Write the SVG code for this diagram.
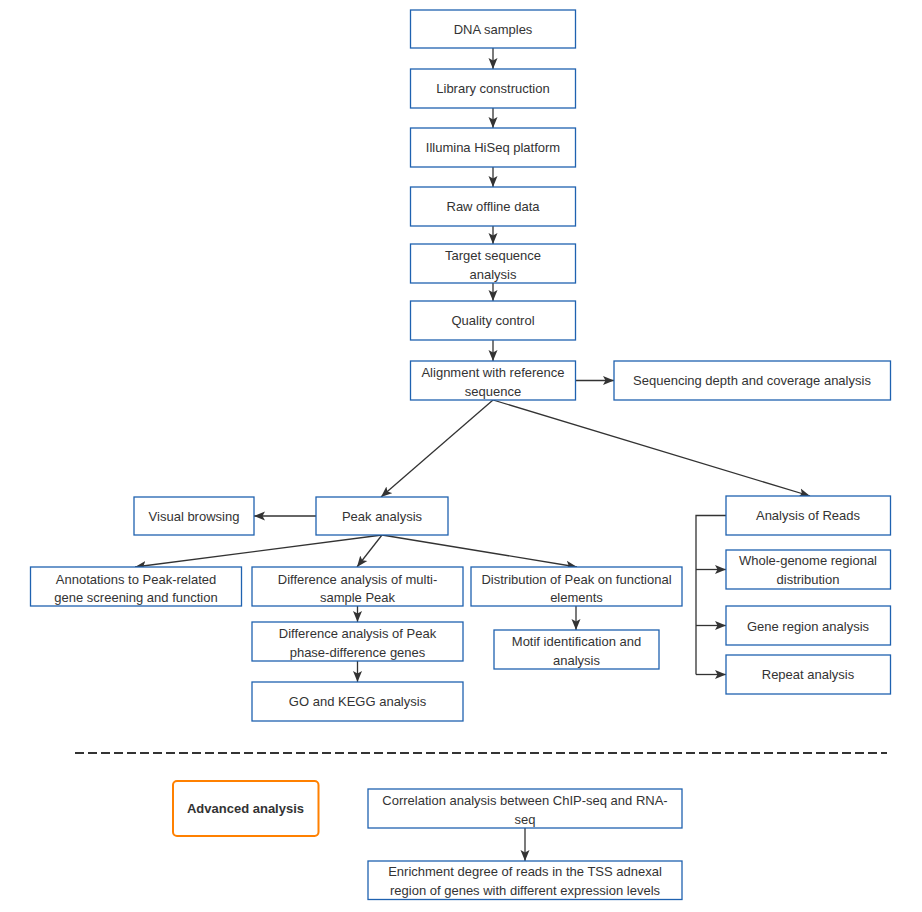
<svg xmlns="http://www.w3.org/2000/svg" width="922" height="912" viewBox="0 0 922 912">
<defs>
<style>
.box{fill:#fff;stroke:#1f62b0;stroke-width:1.3}
.adv{fill:#fff;stroke:#ff8000;stroke-width:2}
text{font-family:"Liberation Sans",Arial,sans-serif;font-size:13px;fill:#333;text-anchor:middle}
.b{font-weight:bold}
.c{fill:none;stroke:#333;stroke-width:1.3}
</style>
<marker id="ar" viewBox="0 0 12 10" markerWidth="12" markerHeight="10" refX="11" refY="5" orient="auto" markerUnits="userSpaceOnUse">
<path d="M0,0.5 L11,5 L0,9.5 L2.5,5 z" fill="#333"/>
</marker>
</defs>
<rect width="922" height="912" fill="#fff"/>
<g id="connectors">
<path class="c" marker-end="url(#ar)" d="M493,48 V69"/>
<path class="c" marker-end="url(#ar)" d="M493,108 V128"/>
<path class="c" marker-end="url(#ar)" d="M493,167 V187"/>
<path class="c" marker-end="url(#ar)" d="M493,226 V244"/>
<path class="c" marker-end="url(#ar)" d="M493,283 V301"/>
<path class="c" marker-end="url(#ar)" d="M493,340 V361"/>
<path class="c" marker-end="url(#ar)" d="M576,380.5 H614"/>
<path class="c" marker-end="url(#ar)" d="M493,400 L381,497"/>
<path class="c" marker-end="url(#ar)" d="M493,400 L810,496"/>
<path class="c" marker-end="url(#ar)" d="M316,516 H254"/>
<path class="c" marker-end="url(#ar)" d="M382,535 L135,567"/>
<path class="c" marker-end="url(#ar)" d="M382,535 L357,567"/>
<path class="c" marker-end="url(#ar)" d="M382,535 L577,567"/>
<path class="c" marker-end="url(#ar)" d="M357.5,606 V622"/>
<path class="c" marker-end="url(#ar)" d="M357.5,661 V682"/>
<path class="c" marker-end="url(#ar)" d="M576,606 V630"/>
<path class="c" d="M726,515.5 H696 V674.5"/>
<path class="c" marker-end="url(#ar)" d="M696,569.5 H726"/>
<path class="c" marker-end="url(#ar)" d="M696,625.5 H726"/>
<path class="c" marker-end="url(#ar)" d="M696,674.5 H726"/>
<path class="c" marker-end="url(#ar)" d="M525,828 V861"/>
</g>
<g id="n1"><rect class="box" x="410.5" y="10" width="165" height="38"/><text x="493" y="33.5">DNA samples</text></g>
<g id="n2"><rect class="box" x="410.5" y="69" width="165" height="39"/><text x="493" y="93">Library construction</text></g>
<g id="n3"><rect class="box" x="410.5" y="128" width="165" height="39"/><text x="493" y="152">Illumina HiSeq platform</text></g>
<g id="n4"><rect class="box" x="410.5" y="187" width="165" height="39"/><text x="493" y="211">Raw offline data</text></g>
<g id="n5"><rect class="box" x="410.5" y="244" width="165" height="39"/><text x="493" y="260">Target sequence</text><text x="493" y="279">analysis</text></g>
<g id="n6"><rect class="box" x="410.5" y="301" width="165" height="39"/><text x="493" y="325">Quality control</text></g>
<g id="n7"><rect class="box" x="410.5" y="361" width="165" height="39"/><text x="493" y="377">Alignment with reference</text><text x="493" y="396">sequence</text></g>
<g id="n8"><rect class="box" x="614" y="361" width="276.5" height="39"/><text x="752" y="385">Sequencing depth and coverage analysis</text></g>
<g id="n9"><rect class="box" x="316" y="497" width="132" height="38"/><text x="382" y="520.5">Peak analysis</text></g>
<g id="n10"><rect class="box" x="134" y="497" width="120" height="38"/><text x="194" y="520.5">Visual browsing</text></g>
<g id="n11"><rect class="box" x="30.5" y="567" width="211" height="39"/><text x="136" y="583.5">Annotations to Peak-related</text><text x="136" y="602">gene screening and function</text></g>
<g id="n12"><rect class="box" x="252" y="567" width="211" height="39"/><text x="357.5" y="583.5">Difference analysis of multi-</text><text x="357.5" y="602">sample Peak</text></g>
<g id="n13"><rect class="box" x="471" y="567" width="211" height="39"/><text x="576.5" y="583.5">Distribution of Peak on functional</text><text x="576.5" y="602">elements</text></g>
<g id="n14"><rect class="box" x="252" y="622" width="211" height="39"/><text x="357.5" y="637.5">Difference analysis of Peak</text><text x="357.5" y="656.5">phase-difference genes</text></g>
<g id="n15"><rect class="box" x="252" y="682" width="211" height="39"/><text x="357.5" y="706">GO and KEGG analysis</text></g>
<g id="n16"><rect class="box" x="494" y="630" width="165" height="39"/><text x="576.5" y="645.5">Motif identification and</text><text x="576.5" y="664.5">analysis</text></g>
<g id="n17"><rect class="box" x="726" y="496" width="164.5" height="39"/><text x="808" y="520">Analysis of Reads</text></g>
<g id="n18"><rect class="box" x="726" y="550" width="164.5" height="39"/><text x="808" y="565">Whole-genome regional</text><text x="808" y="584">distribution</text></g>
<g id="n19"><rect class="box" x="726" y="606" width="164.5" height="39"/><text x="808" y="630.5">Gene region analysis</text></g>
<g id="n20"><rect class="box" x="726" y="655" width="164.5" height="39"/><text x="808" y="679">Repeat analysis</text></g>
<path d="M75,753 H887" stroke="#333" stroke-width="2" stroke-dasharray="9 4" fill="none"/>
<g id="n21"><rect class="adv" x="173" y="781" width="145.5" height="55" rx="4"/><text class="b" x="245.5" y="813">Advanced analysis</text></g>
<g id="n22"><rect class="box" x="368" y="789" width="314" height="39"/><text x="525" y="804.5">Correlation analysis between ChIP-seq and RNA-</text><text x="525" y="823.5">seq</text></g>
<g id="n23"><rect class="box" x="368" y="861" width="314" height="38.5"/><text x="525" y="876">Enrichment degree of reads in the TSS adnexal</text><text x="525" y="895">region of genes with different expression levels</text></g>
</svg>
